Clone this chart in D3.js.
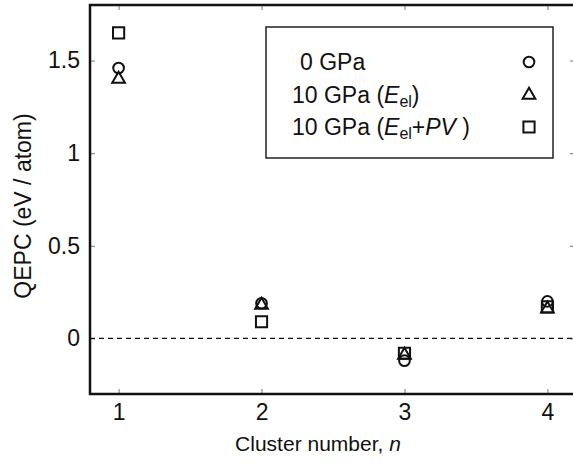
<!DOCTYPE html>
<html>
<head>
<meta charset="utf-8">
<script src="https://cdn.jsdelivr.net/npm/d3@7"></script>
<style>
  body { margin: 0; background: #fff; }
  text { font-family: "Liberation Sans", Arial, sans-serif; fill: #111; }
</style>
</head>
<body>
<div class="chart"></div>
<script>
const svgWidth = 573;
const svgHeight = 464;

// data
const clusters = [1, 2, 3, 4];
const gpa0 = [1.46, 0.19, -0.12, 0.20];
const gpa10El = [1.40, 0.18, -0.09, 0.16];
const gpa10ElPV = [1.65, 0.09, -0.08, 0.17];
const xTicks = [1, 2, 3, 4];
const yTicks = [0, 0.5, 1, 1.5];

const margin = { top: 5, right: -3, bottom: 70, left: 90 };
const width = svgWidth - margin.left - margin.right;
const height = svgHeight - margin.top - margin.bottom;

const svg = d3.select('.chart')
  .append('svg')
  .attr('width', svgWidth)
  .attr('height', svgHeight);

const chartGroup = svg.append('g')
  .attr('transform', `translate(${margin.left}, ${margin.top})`);

const x = d3.scaleLinear().domain([0.8, 4.2]).range([0, width]);
const y = d3.scaleLinear().domain([-0.3, 1.8]).range([height, 0]);

// axes, ticks pointing inward
const fmt = d => d === 0 ? '0' : String(d);
const bottomAxis = d3.axisBottom(x).tickValues(xTicks).tickSize(-5).tickPadding(10).tickFormat(fmt);
const leftAxis = d3.axisLeft(y).tickValues(yTicks).tickSize(-5).tickPadding(10).tickFormat(fmt);

chartGroup.append('g')
  .attr('transform', `translate(0, ${height})`)
  .call(bottomAxis);
chartGroup.append('g').call(leftAxis);

chartGroup.append('g')
  .call(d3.axisTop(x).tickValues(xTicks).tickSize(-5).tickFormat(''));
chartGroup.append('g')
  .attr('transform', `translate(${width}, 0)`)
  .call(d3.axisRight(y).tickValues(yTicks).tickSize(-6).tickFormat(''));

chartGroup.selectAll('.domain').remove();
chartGroup.selectAll('.tick line').attr('stroke', '#777').attr('stroke-width', 1);
chartGroup.selectAll('.tick text').style('font-size', '23px').attr('fill', '#111');

// frame
chartGroup.append('rect')
  .attr('x', 0).attr('y', 0)
  .attr('width', width).attr('height', height)
  .attr('fill', 'none')
  .attr('stroke', '#111')
  .attr('stroke-width', 2.5);

// zero line
chartGroup.append('line')
  .attr('x1', 0).attr('x2', width)
  .attr('y1', y(0)).attr('y2', y(0))
  .attr('stroke', '#111')
  .attr('stroke-width', 1.3)
  .attr('stroke-dasharray', '5,4');

// markers
const circleSym = d3.symbol().type(d3.symbolCircle).size(90);
const triSym = d3.symbol().type(d3.symbolTriangle).size(70);
const sqSym = d3.symbol().type(d3.symbolSquare).size(125);

function drawSeries(values, sym) {
  chartGroup.selectAll(null)
    .data(values)
    .enter()
    .append('path')
    .attr('d', sym)
    .attr('transform', (d, i) => `translate(${x(clusters[i])}, ${y(d)})`)
    .attr('fill', 'none')
    .attr('stroke', '#111')
    .attr('stroke-width', 2);
}
drawSeries(gpa10ElPV, sqSym);
drawSeries(gpa10El, triSym);
drawSeries(gpa0, circleSym);

// legend
const legend = svg.append('g');
legend.append('rect')
  .attr('x', 266).attr('y', 27)
  .attr('width', 287).attr('height', 131)
  .attr('fill', '#fff')
  .attr('stroke', '#222')
  .attr('stroke-width', 1.5);

const legendRows = [
  { sym: circleSym, y: 62 },
  { sym: triSym, y: 95 },
  { sym: sqSym, y: 127 }
];
legend.selectAll(null)
  .data(legendRows)
  .enter()
  .append('path')
  .attr('d', d => d.sym())
  .attr('transform', d => `translate(529, ${d.y})`)
  .attr('fill', 'none')
  .attr('stroke', '#111')
  .attr('stroke-width', 2);

const t1 = legend.append('text').attr('x', 300).attr('y', 70).style('font-size', '23px');
t1.text('0 GPa');

const t2 = legend.append('text').attr('x', 292).attr('y', 103).style('font-size', '23px');
t2.append('tspan').text('10 GPa (');
t2.append('tspan').attr('font-style', 'italic').text('E');
t2.append('tspan').attr('dy', 4).style('font-size', '16px').text('el');
t2.append('tspan').attr('dy', -4).text(')');

const t3 = legend.append('text').attr('x', 292).attr('y', 135).style('font-size', '23px');
t3.append('tspan').text('10 GPa (');
t3.append('tspan').attr('font-style', 'italic').text('E');
t3.append('tspan').attr('dy', 4).style('font-size', '16px').text('el');
t3.append('tspan').attr('dy', -4).text('+');
t3.append('tspan').attr('font-style', 'italic').text('PV');
t3.append('tspan').text(' )');

// axis titles
const xt = svg.append('text')
  .attr('x', 318)
  .attr('y', 451)
  .attr('text-anchor', 'middle')
  .style('font-size', '21px');
xt.append('tspan').text('Cluster number, ');
xt.append('tspan').attr('font-style', 'italic').text('n');

svg.append('text')
  .attr('transform', 'translate(31, 206) rotate(-90)')
  .attr('text-anchor', 'middle')
  .style('font-size', '23px')
  .text('QEPC (eV / atom)');
</script>
</body>
</html>
